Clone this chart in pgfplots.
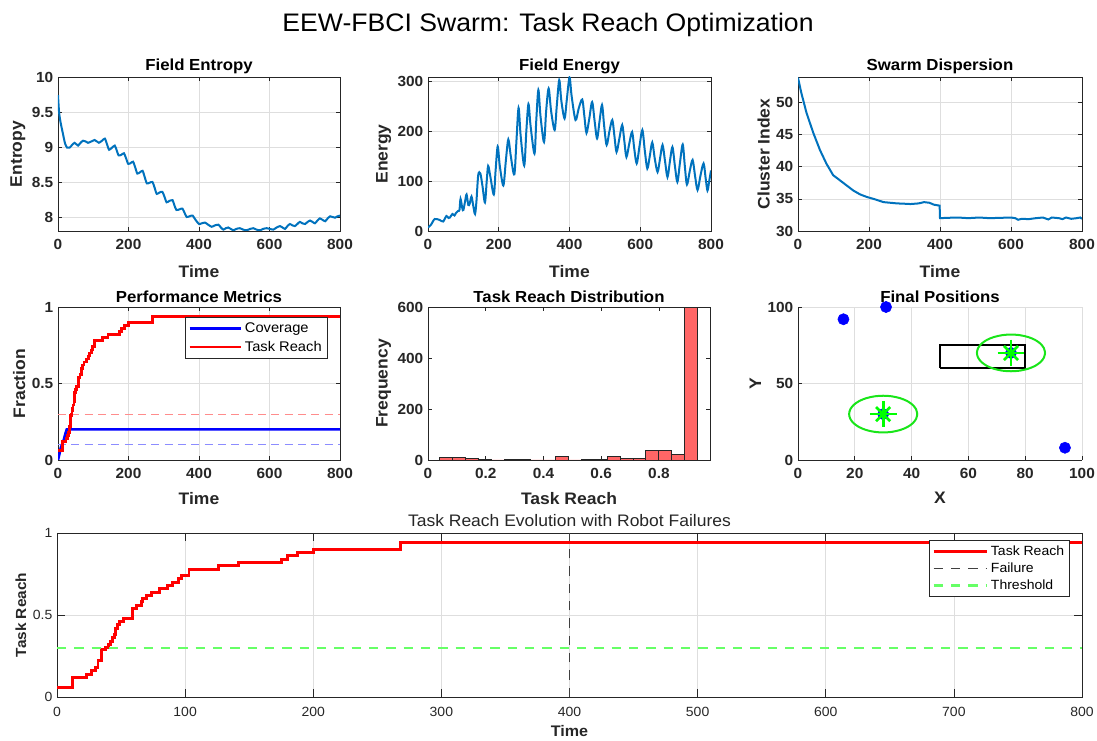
\documentclass[border=0pt]{standalone}
\usepackage{fontspec}
\setmainfont{Liberation Sans}[FakeStretch=1.05]
\usepackage{pgfplots}
\usepackage{pgfplotstable}
\pgfplotsset{compat=1.18}
\definecolor{mblue}{rgb}{0,0.447,0.741}
\definecolor{mgray}{rgb}{0.15,0.15,0.15}
\definecolor{gridc}{rgb}{0.87,0.87,0.87}
\definecolor{barred}{rgb}{1,0.4,0.4}
\definecolor{thrgreen}{rgb}{0.4,1,0.4}
\definecolor{ellgreen}{rgb}{0.1,0.9,0.1}

\pgfplotsset{
  mat/.style={
    scale only axis,
    anchor=south west,
    /pgf/number format/assume math mode=true,
    axis line style={mgray, line width=0.6pt},
    every tick/.append style={mgray, line width=0.5pt},
    major tick length=3pt,
    tick align=inside,
    grid style={gridc, line width=0.5pt},
    tick label style={font=\bfseries\fontsize{11}{13}\selectfont, text=mgray},
    xticklabel style={yshift=-3pt},
    label style={font=\bfseries\fontsize{12.5}{14}\selectfont, text=mgray},
    title style={font=\bfseries\fontsize{12}{14}\selectfont, yshift=-7.5pt},
    xlabel style={yshift=-5pt},
    ylabel style={yshift=-2pt},
    legend cell align=left,
  },
}

\pgfplotstableread{
dx dy
12 0
11.59 3.11
10.39 6
8.49 8.49
6 10.39
3.11 11.59
0 12
-3.11 11.59
-6 10.39
-8.49 8.49
-10.39 6
-11.59 3.11
-12 0
-11.59 -3.11
-10.39 -6
-8.49 -8.49
-6 -10.39
-3.11 -11.59
0 -12
3.11 -11.59
6 -10.39
8.49 -8.49
10.39 -6
11.59 -3.11
12 0
}\circ

\pgfplotstableread{
t r
0 0.06
12 0.12
23 0.14
27 0.16
30 0.18
32 0.22
35 0.29
38 0.30
40 0.32
42 0.34
43 0.36
45 0.38
46 0.42
47 0.44
49 0.46
52 0.48
59 0.54
62 0.56
66 0.58
67 0.60
70 0.62
74 0.64
80 0.66
86 0.68
90 0.70
95 0.72
97 0.74
103 0.78
126 0.80
142 0.82
175 0.84
180 0.86
188 0.88
200 0.90
268 0.94
800 0.94
}\reach

\begin{document}
\begin{tikzpicture}
\path[use as bounding box] (0,0) rectangle (822.75pt,555pt);
\node[anchor=base, font=\fontsize{19}{22}\selectfont, inner sep=0pt] at (411pt,531pt) {EEW-FBCI Swarm: Task Reach Optimization};

% ---------- Field Entropy
\begin{axis}[mat, at={(43.5pt,381.75pt)}, width=211.5pt, height=115.5pt,
  xmin=0, xmax=800, ymin=7.8, ymax=10, xtick={0,200,400,600,800},
  ytick={8,8.5,9,9.5,10}, grid=major,
  title={Field Entropy}, xlabel={Time}, ylabel={Entropy}]
\addplot[mblue, line width=1.5pt, smooth, tension=0.4] coordinates {
(0,9.74)(3,9.5)(7,9.36)(14,9.19)(20,9.05)(26,8.99)(33,8.99)(40,9.03)(47,9.06)(52,9.04)(57,9.02)(64,9.06)(71,9.09)(78,9.08)(85,9.06)(95,9.08)(104,9.10)(110,9.08)(116,9.06)(125,9.09)(133,9.12)(139,9.04)(145,8.96)(153,8.99)(161,9.02)(166,8.96)(172,8.88)(180,8.89)(187,8.91)(193,8.84)(199,8.76)(206,8.77)(213,8.79)(219,8.71)(225,8.62)(233,8.64)(240,8.66)(246,8.57)(252,8.48)(260,8.49)(268,8.50)(274,8.42)(280,8.33)(288,8.35)(296,8.36)(302,8.29)(308,8.21)(316,8.23)(325,8.24)(330,8.17)(336,8.10)(345,8.11)(353,8.12)(359,8.06)(365,8.0)(373,8.01)(382,8.02)(390,7.96)(400,7.90)(408,7.91)(417,7.92)(426,7.89)(436,7.86)(445,7.88)(455,7.89)(462,7.85)(469,7.82)(476,7.84)(483,7.85)(490,7.83)(497,7.81)(506,7.83)(516,7.84)(525,7.82)(535,7.81)(545,7.83)(554,7.84)(563,7.82)(573,7.81)(582,7.83)(592,7.84)(601,7.83)(611,7.82)(620,7.85)(630,7.87)(637,7.85)(644,7.83)(651,7.87)(658,7.90)(665,7.88)(672,7.87)(679,7.90)(686,7.93)(693,7.91)(701,7.90)(708,7.93)(715,7.95)(722,7.93)(729,7.91)(736,7.95)(743,7.98)(750,7.96)(758,7.94)(765,7.98)(772,8.01)(779,8.0)(786,7.99)(793,8.01)(800,8.02)};
\end{axis}

% ---------- Field Energy
\begin{axis}[mat, at={(321pt,381.75pt)}, width=212.25pt, height=115.5pt,
  xmin=0, xmax=800, ymin=0, ymax=308, xtick={0,200,400,600,800},
  ytick={0,100,200,300}, grid=major,
  title={Field Energy}, xlabel={Time}, ylabel={Energy}]
\addplot[mblue, line width=1.5pt, smooth, tension=0.5] coordinates {
(0,7)(9,13)(19,24)(33,22)(43,19)(52,30)(58,26)(62,27)(69,34)(75,31)(79,36)(85,40)(89,42)(92,64)(97,45)(100,42)(105,60)(109,73)(114,52)(118,55)(123,69)(128,50)(133,34)(137,60)(142,112)(148,115)(154,90)(161,57)(166,100)(170,130)(176,110)(186,73)(191,120)(197,169)(203,130)(213,91)(220,140)(227,183)(234,150)(244,113)(250,180)(256,246)(262,190)(272,131)(278,200)(284,254)(290,210)(301,155)(306,220)(312,282)(318,230)(328,178)(334,240)(341,285)(348,240)(358,202)(364,250)(371,302)(377,260)(386,225)(392,260)(400,307)(406,270)(417,222)(426,245)(436,263)(442,230)(448,196)(456,225)(464,258)(471,220)(478,185)(485,220)(492,252)(498,210)(505,172)(513,200)(521,222)(527,190)(533,158)(541,185)(549,212)(555,180)(561,148)(569,175)(577,198)(583,165)(590,135)(598,170)(606,202)(613,160)(620,125)(627,150)(634,177)(641,145)(649,118)(656,145)(663,172)(670,140)(677,108)(684,140)(691,168)(698,130)(705,98)(712,135)(720,173)(726,130)(732,93)(740,120)(748,142)(755,110)(762,82)(770,110)(779,135)(785,105)(790,81)(795,100)(800,121)};
\end{axis}

% ---------- Swarm Dispersion
\begin{axis}[mat, at={(598.5pt,381.75pt)}, width=213pt, height=115.5pt,
  xmin=0, xmax=800, ymin=30, ymax=54, xtick={0,200,400,600,800},
  ytick={30,35,40,45,50}, grid=major,
  title={Swarm Dispersion}, xlabel={Time}, ylabel={Cluster Index}]
\addplot[mblue, line width=1.5pt] coordinates {
(0,53.9)(9,51.6)(24,48.4)(43,45.3)(62,42.6)(80,40.5)(99,38.7)(118,37.9)(137,37.1)(156,36.3)(175,35.7)(194,35.3)(213,35.0)(241,34.5)(260,34.4)(279,34.3)(300,34.25)(317,34.2)(340,34.3)(355,34.5)(370,34.4)(383,34.1)(399,33.95)(400,32.0)(420,32.05)(450,32.1)(480,32.0)(510,32.1)(540,32.0)(570,32.05)(600,32.1)(612,32.0)(620,31.75)(630,31.9)(650,31.85)(670,32.0)(690,32.1)(705,31.8)(715,32.1)(735,32.0)(745,31.85)(755,32.1)(770,31.9)(785,32.0)(795,32.1)(800,31.9)};
\end{axis}

% ---------- Performance Metrics
\begin{axis}[mat, at={(43.5pt,210pt)}, width=211.5pt, height=114.75pt,
  xmin=0, xmax=800, ymin=0, ymax=1, xtick={0,200,400,600,800},
  ytick={0,0.5,1}, grid=major, title style={yshift=1.5pt}, xlabel style={yshift=2pt},
  title={Performance Metrics}, xlabel={Time}, ylabel={Fraction},
  legend style={at={(0.955,0.935)}, anchor=north east, draw=mgray, fill=white,
    font=\fontsize{10.5}{12.5}\selectfont, inner sep=2pt, row sep=1pt},
  legend image code/.code={\draw[#1] (0cm,0cm) -- (1.35cm,0cm);}]
\addplot[forget plot, red!45, line width=0.6pt, dash pattern=on 6pt off 4pt] coordinates {(0,0.3)(800,0.3)};
\addplot[forget plot, blue!45, line width=0.6pt, dash pattern=on 6pt off 4pt] coordinates {(0,0.1)(800,0.1)};
\addplot[blue, line width=2pt] coordinates {(0,0)(8,0.08)(15,0.12)(22,0.18)(25,0.2)(800,0.2)};
\addplot[red, line width=2pt, const plot] table[x=t, y=r] {\reach};
\legend{Coverage, Task Reach}
\end{axis}

% ---------- Task Reach Distribution
\begin{axis}[mat, at={(321pt,210pt)}, width=211.5pt, height=114.75pt,
  xmin=0, xmax=0.977, ymin=0, ymax=600, xtick={0,0.2,0.4,0.6,0.8},
  ytick={0,200,400,600}, title style={yshift=1.5pt}, xlabel style={yshift=2pt},
  title={Task Reach Distribution}, xlabel={Task Reach}, ylabel={Frequency}]
\addplot[ybar interval, fill=barred, draw=mgray, line width=0.6pt] coordinates {
(0.041,10)(0.0856,10)(0.1302,6)(0.1748,1)(0.2194,0)(0.264,2)(0.3086,1)(0.3532,0)(0.3978,0)(0.4424,13)(0.487,0)(0.5316,3)(0.5762,3)(0.6208,14)(0.6654,6)(0.71,6)(0.7546,39)(0.7992,37)(0.8438,21)(0.8884,600)(0.933,0)};
\end{axis}

% ---------- Final Positions
\begin{axis}[mat, at={(598.5pt,210pt)}, width=213pt, height=114.75pt,
  xmin=0, xmax=100, ymin=0, ymax=100, xtick={0,20,40,60,80,100},
  ytick={0,50,100}, grid=major, clip=false, title style={yshift=1.5pt}, xlabel style={yshift=2pt},
  axis x line*=bottom, axis y line*=left, axis line style={-, mgray, line width=0.6pt},
  title={Final Positions}, xlabel={X}, ylabel={Y}]
\addplot[black, line width=1.8pt] coordinates {(50,60)(80,60)(80,75)(50,75)(50,60)};
\addplot[ellgreen, line width=1.5pt, smooth] table[x expr=\thisrow{dx}+30, y expr=\thisrow{dy}+30] {\circ};
\addplot[ellgreen, line width=1.5pt, smooth] table[x expr=\thisrow{dx}+75, y expr=\thisrow{dy}+70] {\circ};
\addplot[only marks, mark=*, mark size=4.2pt, blue, mark options={draw=blue, fill=blue}] coordinates {(16,92)(31,100)(94,8)(30,30)(75,70)};
\addplot[only marks, mark=+, mark size=10pt, green, mark options={line width=2pt}] coordinates {(30,30)(75,70)};
\addplot[only marks, mark=x, mark size=7.5pt, green, mark options={line width=2pt}] coordinates {(30,30)(75,70)};
\end{axis}

% ---------- Task Reach Evolution
\begin{axis}[mat, at={(42.75pt,32.25pt)}, width=768.75pt, height=123pt,
  xmin=0, xmax=800, ymin=0, ymax=1, xtick={0,100,200,300,400,500,600,700,800},
  ytick={0,0.5,1}, grid=major, major tick length=6pt,
  title={Task Reach Evolution with Robot Failures},
  title style={font=\fontsize{12.5}{14}\selectfont, text=mgray, yshift=3pt},
  tick label style={font=\fontsize{10}{12}\selectfont},
  xticklabel style={yshift=-0.75pt},
  xlabel style={font=\bfseries\fontsize{11.5}{13}\selectfont, yshift=5pt},
  ylabel style={font=\bfseries\fontsize{11}{13}\selectfont},
  xlabel={Time}, ylabel={Task Reach},
  legend style={at={(0.988,0.957)}, anchor=north east, draw=mgray, fill=white,
    font=\fontsize{10}{12}\selectfont, inner sep=2pt, row sep=0pt},
  legend image code/.code={\draw[#1] (0cm,0cm) -- (1.4cm,0cm);}]
\addplot[red, line width=2.2pt, const plot] table[x=t, y=r] {\reach};
\addplot[black!75, line width=1.3pt, dash pattern=on 7pt off 6pt] coordinates {(400,0)(400,1)};
\addplot[thrgreen, line width=1.8pt, dash pattern=on 7pt off 6pt] coordinates {(0,0.3)(800,0.3)};
\legend{Task Reach, Failure, Threshold}
\end{axis}
\end{tikzpicture}
\end{document}
